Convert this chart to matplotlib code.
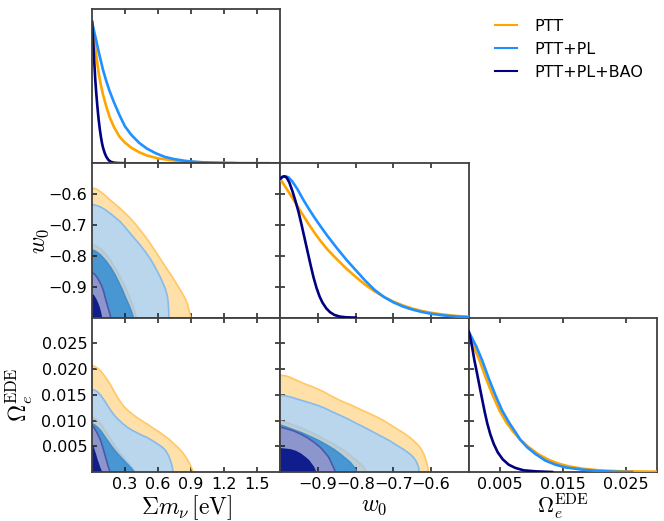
import matplotlib
matplotlib.use('Agg')
import matplotlib.pyplot as plt
from matplotlib.lines import Line2D

# ---- data ----
labels = ['PTT', 'PTT+PL', 'PTT+PL+BAO']
line_colors = ['#FFA500', '#1E90FF', '#000080']

mnu_lim = (0.0, 1.715)
w0_lim = (-1.0, -0.5)
ede_lim = (0.0, 0.03)

mnu_ticks = [0.3, 0.6, 0.9, 1.2, 1.5]
w0_ticks = [-0.9, -0.8, -0.7, -0.6]
ede_yticks = [0.005, 0.010, 0.015, 0.020, 0.025]
ede_xticks = [0.005, 0.015, 0.025]

# 1D marginals (value, normalised density)
mnu_ptt = [(0, 1.0), (0.02, 0.875), (0.04, 0.755), (0.06, 0.640), (0.08, 0.555), (0.10, 0.485),
           (0.13, 0.400), (0.16, 0.327), (0.20, 0.255), (0.25, 0.187), (0.30, 0.145), (0.36, 0.108),
           (0.43, 0.077), (0.50, 0.054), (0.60, 0.034), (0.72, 0.021), (0.86, 0.011), (1.0, 0.0055),
           (1.2, 0.002), (1.4, 0.0007), (1.61, 0.0)]
mnu_pl = [(0, 1.0), (0.02, 0.93), (0.04, 0.862), (0.06, 0.79), (0.08, 0.725), (0.10, 0.66),
          (0.13, 0.58), (0.16, 0.51), (0.20, 0.43), (0.25, 0.34), (0.30, 0.26), (0.36, 0.198),
          (0.43, 0.143), (0.50, 0.103), (0.58, 0.07), (0.66, 0.045), (0.75, 0.028), (0.85, 0.016),
          (0.95, 0.0085), (1.07, 0.0035), (1.2, 0.001), (1.3, 0.0)]
mnu_bao = [(0, 1.0), (0.01, 0.87), (0.02, 0.72), (0.03, 0.585), (0.04, 0.48), (0.05, 0.39),
           (0.06, 0.31), (0.07, 0.245), (0.08, 0.19), (0.09, 0.145), (0.10, 0.11), (0.115, 0.072),
           (0.13, 0.045), (0.15, 0.022), (0.17, 0.01), (0.20, 0.003), (0.25, 0.0005), (0.29, 0.0)]

w0_ptt = [(-0.998, 0.971), (-0.985, 0.918), (-0.970, 0.855), (-0.955, 0.790), (-0.940, 0.725),
          (-0.925, 0.662), (-0.910, 0.603), (-0.895, 0.548), (-0.875, 0.482), (-0.850, 0.413),
          (-0.825, 0.347), (-0.800, 0.288), (-0.775, 0.233), (-0.750, 0.186), (-0.725, 0.146),
          (-0.700, 0.113), (-0.675, 0.086), (-0.650, 0.064), (-0.625, 0.047), (-0.600, 0.034),
          (-0.575, 0.024), (-0.550, 0.016), (-0.525, 0.010), (-0.500, 0.006)]
w0_pl = [(-1.000, 0.983), (-0.993, 0.996), (-0.986, 1.000), (-0.978, 0.992), (-0.968, 0.962),
         (-0.955, 0.910), (-0.940, 0.838), (-0.925, 0.772), (-0.910, 0.710), (-0.895, 0.652),
         (-0.875, 0.578), (-0.850, 0.492), (-0.825, 0.410), (-0.800, 0.336), (-0.775, 0.262),
         (-0.750, 0.196), (-0.725, 0.146), (-0.700, 0.108), (-0.675, 0.079), (-0.650, 0.057),
         (-0.625, 0.040), (-0.600, 0.027), (-0.575, 0.018), (-0.550, 0.011), (-0.525, 0.006),
         (-0.500, 0.003)]
w0_bao = [(-1.000, 0.983), (-0.995, 0.996), (-0.989, 1.000), (-0.983, 0.990), (-0.976, 0.955),
          (-0.968, 0.895), (-0.960, 0.826), (-0.952, 0.750), (-0.944, 0.660), (-0.936, 0.565),
          (-0.928, 0.470), (-0.920, 0.375), (-0.912, 0.285), (-0.904, 0.210), (-0.896, 0.150),
          (-0.888, 0.105), (-0.878, 0.065), (-0.868, 0.038), (-0.856, 0.018), (-0.842, 0.007),
          (-0.826, 0.002), (-0.810, 0.0005), (-0.800, 0.0)]

ede_ptt = [(0, 0.983), (0.00080, 0.888), (0.00170, 0.793), (0.00276, 0.663), (0.00382, 0.544),
           (0.00489, 0.437), (0.00595, 0.354), (0.00701, 0.290), (0.00823, 0.228), (0.00956, 0.176),
           (0.01115, 0.124), (0.01274, 0.086), (0.01434, 0.059), (0.01593, 0.040), (0.01805, 0.024),
           (0.02071, 0.012), (0.02443, 0.005), (0.03, 0.002)]
ede_pl = [(0, 0.995), (0.00053, 0.948), (0.00122, 0.888), (0.00212, 0.793), (0.00319, 0.663),
          (0.00425, 0.544), (0.00531, 0.437), (0.00637, 0.354), (0.00743, 0.283), (0.00823, 0.228),
          (0.00929, 0.176), (0.01062, 0.128), (0.01221, 0.081), (0.01381, 0.052), (0.01540, 0.033),
          (0.01805, 0.017), (0.02071, 0.007), (0.02336, 0.002), (0.02602, 0.0)]
ede_bao = [(0, 0.995), (0.00027, 0.948), (0.00053, 0.888), (0.00090, 0.793), (0.00133, 0.698),
           (0.00175, 0.603), (0.00212, 0.520), (0.00255, 0.425), (0.00297, 0.342), (0.00345, 0.266),
           (0.00398, 0.200), (0.00462, 0.140), (0.00542, 0.090), (0.00637, 0.052), (0.00743, 0.029),
           (0.00876, 0.012), (0.01062, 0.005), (0.01328, 0.0)]

# 2D contour boundaries (from left edge round to bottom edge)
w0mnu_ptt95 = [(0, -0.580), (0.04, -0.584), (0.079, -0.593), (0.125, -0.606), (0.170, -0.621),
               (0.215, -0.634), (0.261, -0.648), (0.305, -0.663), (0.352, -0.680), (0.397, -0.698),
               (0.442, -0.718), (0.488, -0.739), (0.533, -0.762), (0.578, -0.786), (0.624, -0.811),
               (0.670, -0.836), (0.715, -0.860), (0.755, -0.882), (0.791, -0.903), (0.825, -0.923),
               (0.852, -0.941), (0.870, -0.957), (0.882, -0.974), (0.891, -0.988), (0.897, -1.0)]
w0mnu_pl95 = [(0, -0.634), (0.04, -0.637), (0.079, -0.642), (0.125, -0.652), (0.170, -0.664),
              (0.215, -0.677), (0.261, -0.691), (0.305, -0.709), (0.352, -0.729), (0.397, -0.748),
              (0.442, -0.767), (0.488, -0.788), (0.533, -0.811), (0.572, -0.835), (0.609, -0.860),
              (0.642, -0.885), (0.670, -0.909), (0.686, -0.930), (0.694, -0.952), (0.698, -0.976),
              (0.700, -1.0)]
w0mnu_ptt68 = [(0, -0.763), (0.04, -0.769), (0.079, -0.778), (0.125, -0.795), (0.170, -0.816),
               (0.215, -0.842), (0.261, -0.871), (0.300, -0.900), (0.336, -0.930), (0.362, -0.953),
               (0.382, -0.974), (0.395, -0.988), (0.403, -1.0)]
w0mnu_pl68 = [(0, -0.780), (0.04, -0.787), (0.079, -0.798), (0.125, -0.816), (0.170, -0.838),
              (0.210, -0.862), (0.245, -0.887), (0.277, -0.911), (0.306, -0.936), (0.331, -0.956),
              (0.352, -0.974), (0.366, -0.988), (0.376, -1.0)]
w0mnu_bao95 = [(0, -0.854), (0.025, -0.860), (0.048, -0.871), (0.072, -0.886), (0.094, -0.903),
               (0.110, -0.921), (0.124, -0.941), (0.140, -0.961), (0.155, -0.979), (0.164, -0.991),
               (0.170, -1.0)]
w0mnu_bao68 = [(0, -0.925), (0.017, -0.931), (0.033, -0.941), (0.050, -0.954), (0.064, -0.968),
               (0.076, -0.984), (0.085, -1.0)]

edemnu_ptt95 = [(0, 0.0207), (0.025, 0.0205), (0.048, 0.0202), (0.080, 0.0196), (0.109, 0.0188),
                (0.140, 0.0179), (0.170, 0.0169), (0.200, 0.0157), (0.230, 0.0146), (0.260, 0.0136),
                (0.291, 0.0127), (0.335, 0.0118), (0.382, 0.0110), (0.428, 0.0103), (0.473, 0.0097),
                (0.518, 0.0091), (0.564, 0.0084), (0.610, 0.0078), (0.655, 0.0071), (0.700, 0.0064),
                (0.745, 0.0055), (0.785, 0.0047), (0.821, 0.0039), (0.855, 0.0029), (0.882, 0.0019),
                (0.903, 0.0010), (0.921, 0.0)]
edemnu_pl95 = [(0, 0.0160), (0.025, 0.0159), (0.048, 0.0156), (0.080, 0.0149), (0.109, 0.0140),
               (0.140, 0.0130), (0.170, 0.0120), (0.200, 0.0111), (0.230, 0.0104), (0.275, 0.0095),
               (0.321, 0.0087), (0.366, 0.0081), (0.412, 0.0076), (0.458, 0.0071), (0.503, 0.0067),
               (0.550, 0.0061), (0.594, 0.0055), (0.635, 0.0049), (0.670, 0.0042), (0.697, 0.0032),
               (0.715, 0.0022), (0.730, 0.0011), (0.739, 0.0)]
edemnu_ptt68 = [(0, 0.0106), (0.025, 0.0104), (0.048, 0.0100), (0.080, 0.0093), (0.109, 0.0084),
                (0.148, 0.0071), (0.185, 0.0058), (0.222, 0.0046), (0.261, 0.0035), (0.300, 0.0025),
                (0.336, 0.0016), (0.368, 0.0008), (0.397, 0.0)]
edemnu_pl68 = [(0, 0.0094), (0.025, 0.0091), (0.048, 0.0087), (0.080, 0.0080), (0.109, 0.0071),
               (0.148, 0.0059), (0.185, 0.0048), (0.222, 0.0038), (0.261, 0.0029), (0.300, 0.0020),
               (0.336, 0.0012), (0.362, 0.0006), (0.382, 0.0)]
edemnu_bao95 = [(0, 0.0091), (0.016, 0.0087), (0.033, 0.0081), (0.056, 0.0072), (0.079, 0.0061),
                (0.098, 0.0048), (0.115, 0.0035), (0.131, 0.0023), (0.145, 0.0012), (0.156, 0.0005),
                (0.164, 0.0)]
edemnu_bao68 = [(0, 0.0052), (0.009, 0.0048), (0.018, 0.0042), (0.030, 0.0034), (0.042, 0.0025),
                (0.055, 0.0017), (0.067, 0.0009), (0.077, 0.0004), (0.085, 0.0)]

edew0_ptt95 = [(-1.0, 0.0188), (-0.987, 0.0187), (-0.974, 0.0184), (-0.956, 0.0178), (-0.938, 0.0172),
               (-0.920, 0.0167), (-0.903, 0.0162), (-0.885, 0.0156), (-0.868, 0.0149), (-0.850, 0.0142),
               (-0.832, 0.0136), (-0.815, 0.0131), (-0.797, 0.0125), (-0.780, 0.0119), (-0.762, 0.0113),
               (-0.744, 0.0107), (-0.726, 0.0100), (-0.708, 0.0092), (-0.691, 0.0084), (-0.673, 0.0076),
               (-0.656, 0.0067), (-0.642, 0.0058), (-0.629, 0.0048), (-0.619, 0.0035), (-0.613, 0.0022),
               (-0.609, 0.0011), (-0.607, 0.0)]
edew0_pl95 = [(-1.0, 0.0149), (-0.987, 0.0148), (-0.974, 0.0146), (-0.956, 0.0142), (-0.938, 0.0138),
              (-0.920, 0.0134), (-0.903, 0.0130), (-0.885, 0.0125), (-0.868, 0.0119), (-0.850, 0.0113),
              (-0.832, 0.0107), (-0.815, 0.0101), (-0.797, 0.0094), (-0.780, 0.0088), (-0.762, 0.0081),
              (-0.744, 0.0074), (-0.726, 0.0067), (-0.708, 0.0060), (-0.691, 0.0052), (-0.673, 0.0044),
              (-0.656, 0.0035), (-0.645, 0.0027), (-0.638, 0.0019), (-0.633, 0.0009), (-0.631, 0.0)]
edew0_ptt68 = [(-1.0, 0.0099), (-0.983, 0.0096), (-0.965, 0.0091), (-0.943, 0.0085), (-0.921, 0.0078),
               (-0.898, 0.0070), (-0.876, 0.0061), (-0.854, 0.0052), (-0.832, 0.0042), (-0.814, 0.0032),
               (-0.797, 0.0022), (-0.786, 0.0015), (-0.778, 0.0009), (-0.772, 0.0)]
edew0_pl68 = [(-1.0, 0.0091), (-0.983, 0.0087), (-0.965, 0.0082), (-0.943, 0.0076), (-0.921, 0.0069),
              (-0.898, 0.0061), (-0.876, 0.0052), (-0.858, 0.0044), (-0.841, 0.0035), (-0.828, 0.0027),
              (-0.815, 0.0019), (-0.805, 0.0010), (-0.797, 0.0)]
edew0_bao95 = [(-1.0, 0.0087), (-0.983, 0.0084), (-0.965, 0.0080), (-0.947, 0.0074), (-0.929, 0.0067),
               (-0.911, 0.0058), (-0.894, 0.0048), (-0.882, 0.0038), (-0.872, 0.0029), (-0.866, 0.0020),
               (-0.861, 0.0012), (-0.857, 0.0006), (-0.854, 0.0)]
edew0_bao68 = [(-1.0, 0.0045), (-0.987, 0.0044), (-0.974, 0.0043), (-0.960, 0.0040), (-0.947, 0.0035),
               (-0.936, 0.0029), (-0.925, 0.0022), (-0.918, 0.0015), (-0.912, 0.0009), (-0.909, 0.0004),
               (-0.907, 0.0)]

# fill / edge colours for PTT95, PL95, PTT68, PL68, BAO95, BAO68
fills = ['#FFE0A8', '#B9D6ED', '#BECDD4', '#4896D2', '#8C96CD', '#0F1E8C']
edges = ['#FFC864', '#86BBEA', '#B4C6D0', '#4090D0', '#4F58A8', '#0F1E8C']

plt.rcParams['mathtext.fontset'] = 'cm'
plt.rcParams['font.family'] = 'DejaVu Sans'
plt.rcParams['xtick.direction'] = 'in'
plt.rcParams['ytick.direction'] = 'in'

fig, axes = plt.subplots(3, 3, figsize=(6.64, 5.21), dpi=100)
fig.subplots_adjust(left=0.1386, right=0.9895, bottom=0.094, top=0.9833, wspace=0, hspace=0)

for ax in [axes[0, 1], axes[0, 2], axes[1, 2]]:
    ax.axis('off')


def style(ax):
    for s in ax.spines.values():
        s.set_color('0.25')
        s.set_linewidth(1.3)
    ax.tick_params(which='both', top=True, bottom=True, length=3.5, width=1.1,
                   labelsize=11.5, color='0.1')


def density(ax, curves, xlim):
    for c, col in zip(curves, line_colors):
        ax.plot([p[0] for p in c], [p[1] for p in c], color=col, lw=1.9)
    ax.set_xlim(*xlim)
    ax.set_ylim(0, 1.093)


def contours(ax, regions, corner):
    for pts, fc, ec in zip(regions, fills, edges):
        xs = [corner[0]] + [p[0] for p in pts]
        ys = [corner[1]] + [p[1] for p in pts]
        ax.fill(xs, ys, color=fc, lw=0)
        ax.plot([p[0] for p in pts], [p[1] for p in pts], color=ec, lw=1.2)


# diagonal
ax = axes[0, 0]
density(ax, [mnu_ptt, mnu_pl, mnu_bao], mnu_lim)
style(ax)
ax.set_xticks(mnu_ticks)
ax.set_yticks([])
ax.tick_params(labelbottom=False)

ax = axes[1, 1]
ax.set_xlim(*w0_lim)
ax.set_ylim(*w0_lim)
ax.set_xticks(w0_ticks)
ax.set_yticks(w0_ticks)
style(ax)
ax.tick_params(labelbottom=False, labelleft=False, right=False)
tw = ax.twinx()
density(tw, [w0_ptt, w0_pl, w0_bao], w0_lim)
tw.axis('off')

ax = axes[2, 2]
ax.set_xlim(*ede_lim)
ax.set_ylim(*ede_lim)
ax.set_xticks(ede_xticks)
ax.set_yticks(ede_yticks)
style(ax)
ax.tick_params(labelleft=False, right=False)
ax.set_xticklabels(['%.3f' % v for v in ede_xticks])
tw = ax.twinx()
density(tw, [ede_ptt, ede_pl, ede_bao], ede_lim)
tw.axis('off')

# 2D panels
ax = axes[1, 0]
contours(ax, [w0mnu_ptt95, w0mnu_pl95, w0mnu_ptt68, w0mnu_pl68, w0mnu_bao95, w0mnu_bao68],
         (mnu_lim[0], w0_lim[0]))
ax.set_xlim(*mnu_lim)
ax.set_ylim(*w0_lim)
ax.set_xticks(mnu_ticks)
ax.set_yticks(w0_ticks)
style(ax)
ax.tick_params(right=True, labelbottom=False)
ax.set_ylabel(r'$w_0$', fontsize=17)
ax.yaxis.set_label_coords(-0.22, 0.5)

ax = axes[2, 0]
contours(ax, [edemnu_ptt95, edemnu_pl95, edemnu_ptt68, edemnu_pl68, edemnu_bao95, edemnu_bao68],
         (mnu_lim[0], ede_lim[0]))
ax.set_xlim(*mnu_lim)
ax.set_ylim(*ede_lim)
ax.set_xticks(mnu_ticks)
ax.set_yticks(ede_yticks)
ax.set_yticklabels(['%.3f' % v for v in ede_yticks])
style(ax)
ax.tick_params(right=True)
ax.set_xlabel(r'$\Sigma m_\nu\,[\mathrm{eV}]$', fontsize=17, labelpad=1)
ax.set_ylabel(r'$\Omega_e^{\rm EDE}$', fontsize=17)
ax.yaxis.set_label_coords(-0.305, 0.5)

ax = axes[2, 1]
contours(ax, [edew0_ptt95, edew0_pl95, edew0_ptt68, edew0_pl68, edew0_bao95, edew0_bao68],
         (w0_lim[0], ede_lim[0]))
ax.set_xlim(*w0_lim)
ax.set_ylim(*ede_lim)
ax.set_xticks(w0_ticks)
ax.set_yticks(ede_yticks)
style(ax)
ax.tick_params(right=True, labelleft=False)
ax.set_xlabel(r'$w_0$', fontsize=17, labelpad=1)
axes[2, 2].set_xlabel(r'$\Omega_e^{\rm EDE}$', fontsize=16, labelpad=-0.5)

handles = [Line2D([], [], color=c, lw=1.5) for c in line_colors]
fig.legend(handles, labels, loc='upper left', bbox_to_anchor=(0.7245, 0.991), frameon=False,
           fontsize=11.5, handlelength=1.35, handletextpad=1.1, labelspacing=0.5)

fig.savefig('out.png', dpi=100)
